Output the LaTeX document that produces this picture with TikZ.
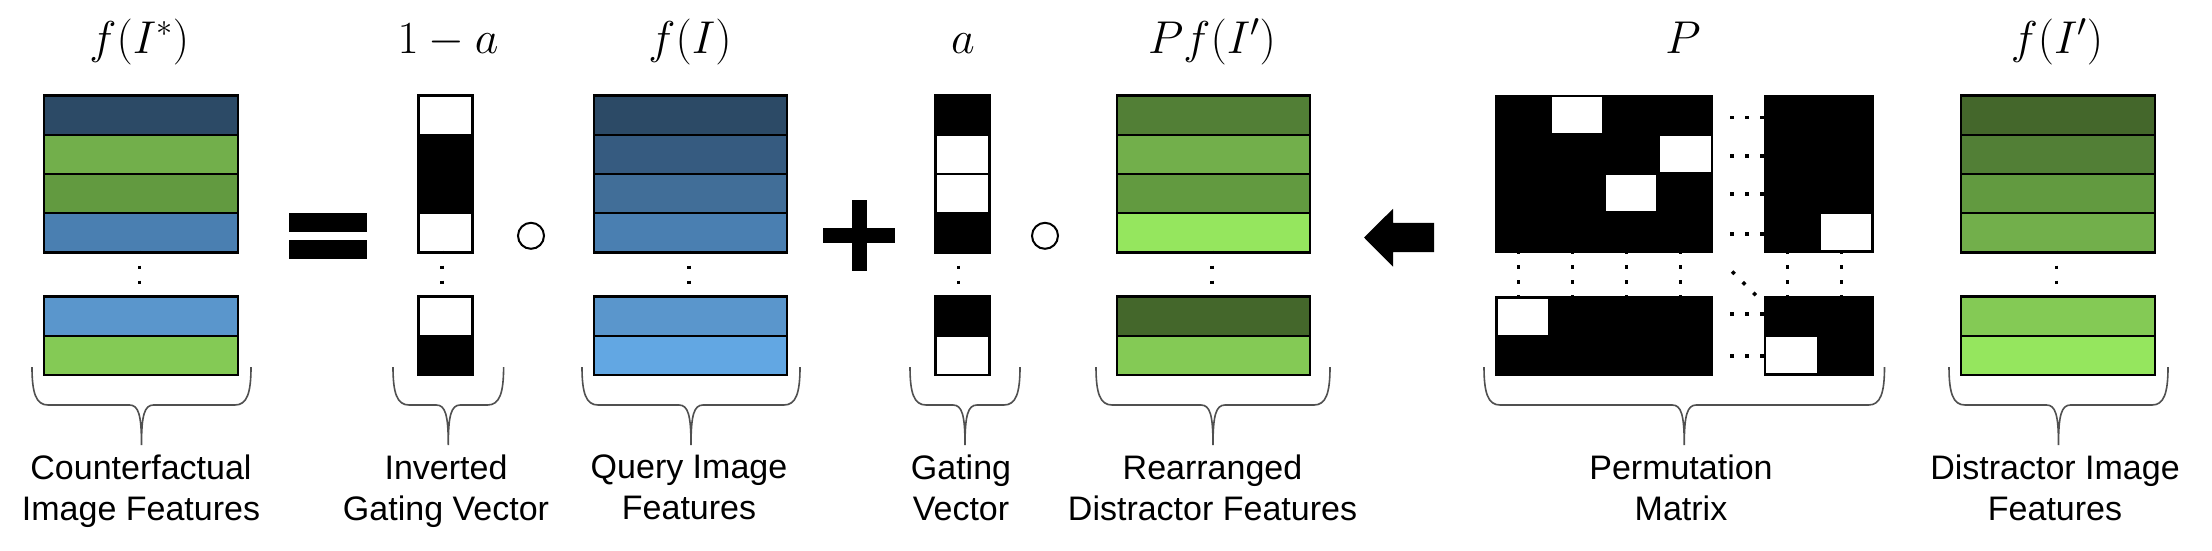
\documentclass[tikz,border=0pt]{standalone}
\usepackage{fix-cm}
\usepackage[no-math]{fontspec}
\newfontfamily\labfont{Liberation Sans}
\usetikzlibrary{calc}
\definecolor{cN1}{HTML}{2C4A66}
\definecolor{cB2}{HTML}{365B80}
\definecolor{cB3}{HTML}{416E98}
\definecolor{cB4}{HTML}{4A7FB1}
\definecolor{cB5}{HTML}{5A96CC}
\definecolor{cB6}{HTML}{62A7E3}
\definecolor{cG1}{HTML}{44672B}
\definecolor{cG2}{HTML}{527F36}
\definecolor{cG3}{HTML}{629A40}
\definecolor{cG4}{HTML}{72AF4B}
\definecolor{cG5}{HTML}{84CA55}
\definecolor{cG6}{HTML}{95E65E}
\definecolor{brcol}{HTML}{505050}
\tikzset{
  frow/.style={draw=black, line width=2.2pt, minimum width=193.5pt, minimum height=39.25pt, inner sep=0pt, outer sep=0pt},
  vcell/.style={draw=black, line width=2.2pt, minimum width=54pt, minimum height=39.25pt, inner sep=0pt, outer sep=0pt},
  pblock/.style={fill=black, draw=black, line width=1pt, inner sep=0pt, outer sep=0pt},
  pwhite/.style={fill=white, minimum width=50.5pt, minimum height=36pt, inner sep=0pt, outer sep=0pt},
  dotl/.style={line width=3.5pt, dash pattern=on 3.5pt off 11.5pt},
  brc/.style={draw=brcol, line width=1.6pt},
  lab/.style={font=\labfont\fontsize{34}{40.7}\selectfont, align=center, anchor=north, inner sep=0pt},
  ttl/.style={font=\fontsize{46}{50}\selectfont, anchor=base, inner sep=0pt},
  opcirc/.style={circle, draw=black, line width=2pt, minimum size=26pt, inner sep=0pt},
}
\newcommand\mybrace[2]{%
  \pgfmathsetmacro\bcx{(#1+#2)/2}%
  \draw[brc] (#1,367) .. controls (#1,393) and (#1+4,405) .. (#1+16,405)
    -- (\bcx-12,405) .. controls (\bcx-3,405) and (\bcx,415) .. (\bcx,445)
    .. controls (\bcx,415) and (\bcx+3,405) .. (\bcx+12,405)
    -- (#2-16,405) .. controls (#2-4,405) and (#2,393) .. (#2,367);
}
\begin{document}
\begin{tikzpicture}[x=1pt,y=-1pt]
\useasboundingbox (0,0) rectangle (2212,550);
\fill[white] (0,0) rectangle (2212,550);

% ---------- titles ----------
\node[ttl] (tA) at (139.3,53) {$f(I^{*})$};
\node[ttl] (tV) at (448,53) {$1-a$};
\node[ttl] (tQ) at (690,53) {$f(I)$};
\node[ttl] (tG) at (963,53) {$a$};
\node[ttl] (tR) at (1212,53) {$Pf(I')$};
\node[ttl] (tP) at (1683,53) {$P$};
\node[ttl] (tD) at (2057,53) {$f(I')$};

% ---------- counterfactual features ----------
\node[frow, fill=cN1] (A1) at (141,115.1) {};
\node[frow, fill=cG4] (A2) at (141,154.4) {};
\node[frow, fill=cG3] (A3) at (141,193.6) {};
\node[frow, fill=cB4] (A4) at (141,232.9) {};
\node[frow, fill=cB5] (A5) at (141,316.1) {};
\node[frow, fill=cG5] (A6) at (141,355.4) {};
\draw[dotl] ([xshift=-1.7pt,yshift=2pt]A4.south) -- ([xshift=-1.7pt]A5.north);

% ---------- equals ----------
\fill[black] (289,213.3) rectangle (367,232.3);
\fill[black] (289,239.6) rectangle (367,259);

% ---------- inverted gating vector ----------
\node[vcell, fill=white] (V1) at (445.5,115.1) {};
\node[vcell, fill=black] (V2) at (445.5,154.4) {};
\node[vcell, fill=black] (V3) at (445.5,193.6) {};
\node[vcell, fill=white] (V4) at (445.5,232.9) {};
\node[vcell, fill=white] (V5) at (445.5,316.1) {};
\node[vcell, fill=black] (V6) at (445.5,355.4) {};
\draw[dotl] ([xshift=-3.7pt,yshift=2pt]V4.south) -- ([xshift=-3.7pt]V5.north);

\node[opcirc] (o1) at (531,235.8) {};

% ---------- query features ----------
\node[frow, fill=cN1] (Q1) at (690.5,115.1) {};
\node[frow, fill=cB2] (Q2) at (690.5,154.4) {};
\node[frow, fill=cB3] (Q3) at (690.5,193.6) {};
\node[frow, fill=cB4] (Q4) at (690.5,232.9) {};
\node[frow, fill=cB5] (Q5) at (690.5,316.1) {};
\node[frow, fill=cB6] (Q6) at (690.5,355.4) {};
\draw[dotl] ([xshift=-1.7pt,yshift=2pt]Q4.south) -- ([xshift=-1.7pt]Q5.north);

% ---------- plus ----------
\fill[black] (823,228) rectangle (895,243);
\fill[black] (852,200) rectangle (867,271);

% ---------- gating vector ----------
\node[vcell, fill=black] (G1) at (962.5,115.1) {};
\node[vcell, fill=white] (G2) at (962.5,154.4) {};
\node[vcell, fill=white] (G3) at (962.5,193.6) {};
\node[vcell, fill=black] (G4) at (962.5,232.9) {};
\node[vcell, fill=black] (G5) at (962.5,316.1) {};
\node[vcell, fill=white] (G6) at (962.5,355.4) {};
\draw[dotl] ([xshift=-3.9pt,yshift=2pt]G4.south) -- ([xshift=-3.9pt]G5.north);

\node[opcirc] (o2) at (1045,235.8) {};

% ---------- rearranged distractor features ----------
\node[frow, fill=cG2] (R1) at (1213.5,115.1) {};
\node[frow, fill=cG4] (R2) at (1213.5,154.4) {};
\node[frow, fill=cG3] (R3) at (1213.5,193.6) {};
\node[frow, fill=cG6] (R4) at (1213.5,232.9) {};
\node[frow, fill=cG1] (R5) at (1213.5,316.1) {};
\node[frow, fill=cG5] (R6) at (1213.5,355.4) {};
\draw[dotl] ([xshift=-1.7pt,yshift=2pt]R4.south) -- ([xshift=-1.7pt]R5.north);

% ---------- block arrow ----------
\fill[black] (1364,237.5) -- (1393,208.8) -- (1393,222.8) -- (1434,222.8)
  -- (1434,252) -- (1393,252) -- (1393,266.7) -- cycle;

% ---------- permutation matrix ----------
\node[pblock, minimum width=216.6pt, minimum height=157pt] (PTL) at (1604.1,174) {};
\node[pblock, minimum width=108.5pt, minimum height=157pt] (PTR) at (1818.9,174) {};
\node[pblock, minimum width=216.6pt, minimum height=78.5pt] (PBL) at (1604.1,335.75) {};
\node[pblock, minimum width=108.5pt, minimum height=78.5pt] (PBR) at (1818.9,335.75) {};
\node[pwhite] (w1) at (1577.0,115.4) {};
\node[pwhite] (w2) at (1685.3,154.4) {};
\node[pwhite] (w3) at (1631.2,193.4) {};
\node[pwhite] (w4) at (1845.8,232.3) {};
\node[pwhite] (w5) at (1522.9,316.6) {};
\node[pwhite] (w6) at (1791.7,355.3) {};
\foreach \xx in {1518.7,1572.7,1626.7,1680.7,1787.3,1841.7}
  \draw[dotl] (\xx,250) -- (\xx,296.5);
\foreach \yy in {117.7,156,194,234,314,356}
  \draw[dotl] (1730,\yy) -- (PTR.west |- 0,\yy);
\draw[dotl] (1732.1,271.5) -- (1756,295.4);

% ---------- distractor features ----------
\node[frow, fill=cG1] (D1) at (2058,115.1) {};
\node[frow, fill=cG2] (D2) at (2058,154.4) {};
\node[frow, fill=cG3] (D3) at (2058,193.6) {};
\node[frow, fill=cG4] (D4) at (2058,232.9) {};
\node[frow, fill=cG5] (D5) at (2058,316.1) {};
\node[frow, fill=cG6] (D6) at (2058,355.4) {};
\draw[dotl] ([xshift=-1.5pt,yshift=2pt]D4.south) -- ([xshift=-1.5pt]D5.north);

% ---------- braces ----------
\mybrace{32}{251}
\mybrace{393}{503.6}
\mybrace{582}{800}
\mybrace{910}{1020}
\mybrace{1096}{1330}
\mybrace{1484}{1884.5}
\mybrace{1949}{2168}

% ---------- labels ----------
\node[lab] (lA) at (141,455) {Counterfactual\\Image Features};
\node[lab] (lV) at (446,455) {Inverted\\Gating Vector};
\node[lab] (lQ) at (689,455) {Query Image\\Features};
\node[lab] (lG) at (961,455) {Gating\\Vector};
\node[lab] (lR) at (1212.5,455) {Rearranged\\Distractor Features};
\node[lab] (lP) at (1681,455) {Permutation\\Matrix};
\node[lab] (lD) at (2055,455) {Distractor Image\\Features};
\end{tikzpicture}
\end{document}
